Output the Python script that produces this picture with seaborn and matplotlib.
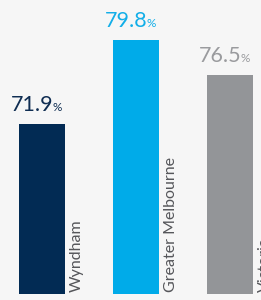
import matplotlib
matplotlib.use("Agg")
import matplotlib.pyplot as plt
import seaborn as sns
import pandas as pd

categories = ["Wyndham", "Greater Melbourne", "Victoria"]
values = [71.9, 79.8, 76.5]
value_labels = ["71.9", "79.8", "76.5"]
colors = ["#022b54", "#00abe9", "#939598"]
label_colors = ["#0f2d52", "#12aee8", "#9a9b9e"]

bg = "#f6f6f6"
sns.set_theme(style="white")
plt.rcParams["font.family"] = ["DejaVu Sans"]

df = pd.DataFrame({"cat": categories, "val": values})

fig = plt.figure(figsize=(2.61, 3.00), dpi=100, facecolor=bg)
ax = fig.add_axes([0, 6 / 300, 1, 294 / 300])
ax.set_facecolor(bg)

sns.barplot(data=df, x="cat", y="val", hue="cat", palette=colors,
            order=categories, hue_order=categories, legend=False,
            width=0.49, saturation=1, linewidth=0, ax=ax)

ax.set_ylim(56, 83.5)
ax.set_xlim(-42 / 94, (261 - 42) / 94)
for s in ax.spines.values():
    s.set_visible(False)
ax.set_xticks([])
ax.set_yticks([])
ax.set_xlabel("")
ax.set_ylabel("")

num_font = ["Lato", "DejaVu Sans"]
for i, (v, lab, c) in enumerate(zip(values, value_labels, label_colors)):
    ax.annotate(lab, xy=(i, v), xytext=(8.0, 9.4), textcoords="offset points",
                ha="right", va="baseline", fontsize=15.5, color=c,
                family=num_font)
    ax.annotate("%", xy=(i, v), xytext=(7.6, 9.4), textcoords="offset points",
                ha="left", va="baseline", fontsize=8.5, color=c,
                family=num_font)
    ax.text(i + 0.245 + 5 / 94, 56.2, categories[i], rotation=90,
            ha="left", va="bottom", fontsize=11.5, color="#55565a",
            family=["Lato", "DejaVu Sans"])

fig.savefig("out.png", dpi=100, facecolor=bg)
